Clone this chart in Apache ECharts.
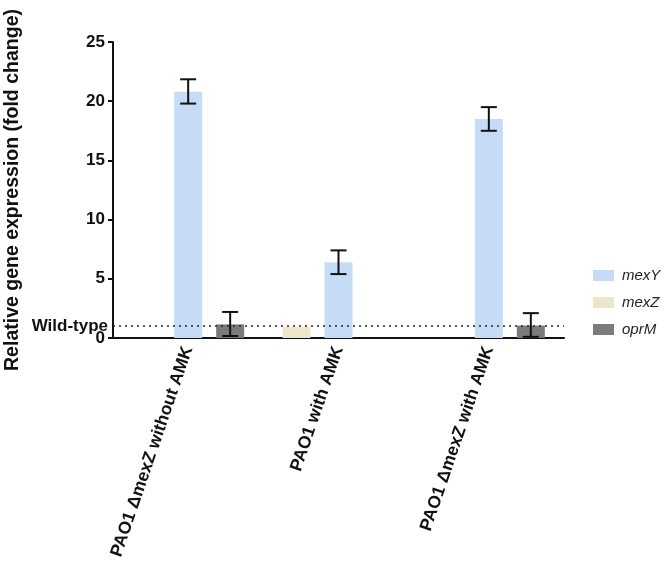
<!DOCTYPE html>
<html lang="en" style="height: 100%">

<head>
    <meta charset="utf-8" />
    <script src="https://cdn.jsdelivr.net/npm/echarts@6/dist/echarts.min.js"></script>
</head>

<body style="height: 100%; margin: 0; background: #fff">
    <div id="container" style="width: 666px;height: 569px;"></div>
    <script type="text/javascript">
        var dom = document.getElementById('container');
        var myChart = echarts.init(dom, null, {
            renderer: 'canvas'
        });

        // data
        const categories = ['PAO1 \u0394mexZ without AMK', 'PAO1 with AMK', 'PAO1 \u0394mexZ with AMK'];
        const yTicks = [0, 5, 10, 15, 20, 25];
        const mexY = [20.8, 6.4, 18.5];
        const mexZ = [0, 0.95, 0];
        const oprM = [1.15, 0, 1.05];
        const mexYLow = [19.8, 5.4, 17.5];
        const mexYHigh = [21.85, 7.4, 19.5];
        const oprMLow = [0.17, null, 0.1];
        const oprMHigh = [2.2, null, 2.1];
        const wildType = 1;

        const colors = ['#c6dcf6', '#ede6cb', '#7b7b7b'];
        const font = 'Liberation Sans, Arial, sans-serif';

        function errData(low, high) {
            let res = [];
            for (let i = 0; i < low.length; i++) {
                if (low[i] != null) res.push([i, low[i], high[i]]);
            }
            return res;
        }

        // error bar drawn at an offset from the category centre
        function errRender(offset) {
            return function (params, api) {
                let lo = api.coord([api.value(0), api.value(1)]);
                let hi = api.coord([api.value(0), api.value(2)]);
                let x = lo[0] + offset;
                let half = 8;
                let style = { stroke: '#111', lineWidth: 2 };
                return {
                    type: 'group',
                    children: [
                        { type: 'line', shape: { x1: x, y1: lo[1], x2: x, y2: hi[1] }, style: style },
                        { type: 'line', shape: { x1: x - half, y1: lo[1], x2: x + half, y2: lo[1] }, style: style },
                        { type: 'line', shape: { x1: x - half, y1: hi[1], x2: x + half, y2: hi[1] }, style: style }
                    ]
                };
            };
        }

        var option = {
            backgroundColor: '#fff',
            animation: false,
            color: colors,
            grid: {
                left: 113,
                right: 102,
                top: 42,
                bottom: 231,
                containLabel: false,
                outerBoundsMode: 'none'
            },
            legend: {
                data: ['mexY', 'mexZ', 'oprM'],
                orient: 'vertical',
                left: 588,
                top: 263,
                icon: 'rect',
                itemWidth: 21,
                itemHeight: 11,
                itemGap: 12,
                textStyle: {
                    fontFamily: font,
                    fontStyle: 'italic',
                    fontSize: 15,
                    color: '#222',
                    padding: [0, 0, 0, 3]
                }
            },
            xAxis: {
                type: 'category',
                data: categories,
                boundaryGap: true,
                axisLine: { lineStyle: { color: '#111', width: 2 } },
                axisTick: { alignWithLabel: true, length: 6, lineStyle: { color: '#111', width: 2 } },
                axisLabel: {
                    rotate: 71,
                    margin: 9,
                    interval: 0,
                    color: '#111',
                    fontFamily: font,
                    fontWeight: 'bold',
                    fontSize: 17.5
                }
            },
            yAxis: {
                type: 'value',
                min: yTicks[0],
                max: yTicks[yTicks.length - 1],
                interval: 5,
                name: 'Relative gene expression (fold change)',
                nameLocation: 'middle',
                nameGap: 90,
                nameTextStyle: {
                    fontFamily: font,
                    fontWeight: 'bold',
                    fontSize: 19.5,
                    color: '#111'
                },
                splitLine: { show: false },
                axisLine: { show: true, lineStyle: { color: '#111', width: 2 } },
                axisTick: { show: true, length: 5, lineStyle: { color: '#111', width: 2 } },
                axisLabel: {
                    margin: 8,
                    color: '#111',
                    fontFamily: font,
                    fontWeight: 'bold',
                    fontSize: 17
                }
            },
            series: [{
                    name: 'mexZ',
                    type: 'bar',
                    z: 1,
                    barWidth: 28,
                    barGap: '50%',
                    itemStyle: { color: colors[1] },
                    data: mexZ,
                    markLine: {
                        silent: true,
                        symbol: ['none', 'none'],
                        lineStyle: { color: '#222', type: [2, 4], width: 1.6 },
                        label: {
                            show: true,
                            position: 'start',
                            distance: 5,
                            formatter: 'Wild-type',
                            color: '#111',
                            fontFamily: font,
                            fontWeight: 'bold',
                            fontSize: 17
                        },
                        data: [{ yAxis: wildType }]
                    }
                },
                {
                    name: 'mexY',
                    type: 'bar',
                    barWidth: 28,
                    barGap: '50%',
                    itemStyle: { color: colors[0] },
                    data: mexY
                },
                {
                    name: 'oprM',
                    type: 'bar',
                    barWidth: 28,
                    barGap: '50%',
                    itemStyle: { color: colors[2] },
                    data: oprM
                },
                {
                    name: 'mexY error',
                    type: 'custom',
                    z: 5,
                    renderItem: errRender(0),
                    encode: { x: 0, y: [1, 2] },
                    data: errData(mexYLow, mexYHigh)
                },
                {
                    name: 'oprM error',
                    type: 'custom',
                    z: 5,
                    renderItem: errRender(42),
                    encode: { x: 0, y: [1, 2] },
                    data: errData(oprMLow, oprMHigh)
                }
            ]
        };

        if (option && typeof option === 'object') {
            myChart.setOption(option);
        }

        window.addEventListener('resize', myChart.resize);
    </script>
</body>

</html>
